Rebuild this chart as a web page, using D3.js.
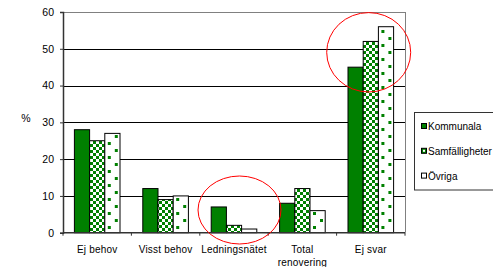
<!DOCTYPE html>
<html><head><meta charset="utf-8">
<script src="https://cdn.jsdelivr.net/npm/d3@7"></script>
<style>body{margin:0;background:#fff}svg{display:block}text{font-family:"Liberation Sans",Arial,sans-serif;fill:#000}</style>
</head><body><svg id="c" width="493" height="267"></svg>
<script>
const categories = ["Ej behov", "Visst behov", "Ledningsnätet", "Total renovering", "Ej svar"];
const seriesNames = ["Kommunala", "Samfälligheter", "Övriga"];
const kommunala = [28, 12, 7, 8, 45];
const samfalligheter = [25, 9, 2, 12, 52];
const ovriga = [27, 10, 1, 6, 56];
const yTicks = [0, 10, 20, 30, 40, 50, 60];

const series = [kommunala, samfalligheter, ovriga];
const svg = d3.select("#c");
const m = {l: 63, t: 12, r: 405, b: 232.7};
const green = "#008000";

const x = d3.scaleBand().domain(categories).range([m.l, m.r]).paddingInner(0).paddingOuter(0);
const y = d3.scaleLinear().domain([0, 60]).range([m.b, m.t]);
const bw = x.bandwidth() / 4.5;

const defs = svg.append("defs");
const chk = defs.append("pattern").attr("id","chk").attr("patternUnits","userSpaceOnUse").attr("width",6).attr("height",6);
chk.append("rect").attr("width",6).attr("height",6).attr("fill","#fff");
chk.append("rect").attr("width",3).attr("height",3).attr("fill",green);
chk.append("rect").attr("x",3).attr("y",3).attr("width",3).attr("height",3).attr("fill",green);
categories.forEach((c, i) => {
  const bx = x(c) + 0.75 * bw + 2 * bw;
  const p = defs.append("pattern").attr("id","dot"+i).attr("patternUnits","userSpaceOnUse")
    .attr("x", bx).attr("y", 0).attr("width",14).attr("height",14);
  p.append("rect").attr("width",14).attr("height",14).attr("fill","#fff");
  p.append("rect").attr("x",3).attr("y",2).attr("width",3).attr("height",3).attr("fill",green);
  p.append("rect").attr("x",10).attr("y",9).attr("width",3).attr("height",3).attr("fill",green);
});

// gridlines
svg.append("g").selectAll("line").data(yTicks.filter(d => d > 0)).join("line")
  .attr("x1", m.l).attr("x2", m.r).attr("y1", d => Math.round(y(d))+0.5).attr("y2", d => Math.round(y(d))+0.5)
  .attr("stroke", d => d === 60 ? "#808080" : "#000").attr("stroke-width", 1);
svg.append("line").attr("x1", m.r+0.5).attr("x2", m.r+0.5).attr("y1", m.t).attr("y2", m.b).attr("stroke", "#808080");

// bars
categories.forEach((c, i) => {
  series.forEach((s, j) => {
    const x0 = x(c) + 0.75 * bw + j * bw;
    const f = j === 0 ? green : j === 1 ? "url(#chk)" : `url(#dot${i})`;
    svg.append("rect").attr("x", x0).attr("y", y(s[i])).attr("width", bw).attr("height", y(0) - y(s[i]))
      .attr("fill", f).attr("stroke", "#000").attr("stroke-width", 1);
  });
});

// y axis
const ya = svg.append("g").attr("transform", `translate(${m.l},0)`)
  .call(d3.axisLeft(y).tickValues(yTicks).tickSize(3).tickPadding(6));
ya.select(".domain").attr("stroke", "#333").attr("stroke-width", 1.5);
ya.selectAll(".tick line").attr("stroke", "#333");
ya.selectAll("text").style("font-size", "10.5px").style("font-family", "Liberation Sans, Arial");

// x axis
const xa = svg.append("g").attr("transform", `translate(0,${m.b})`);
xa.append("line").attr("x1", m.l).attr("x2", m.r).attr("y1", 0).attr("y2", 0).attr("stroke", "#333").attr("stroke-width", 1.5);
xa.selectAll(".tk").data(d3.range(categories.length + 1)).join("line")
  .attr("x1", i => m.l + i * x.step()).attr("x2", i => m.l + i * x.step()).attr("y1", 0).attr("y2", 3).attr("stroke", "#333");
categories.forEach(c => {
  const words = c === "Total renovering" ? ["Total", "renovering"] : [c];
  words.forEach((w, k) => {
    xa.append("text").attr("x", x(c) + x.step()/2).attr("y", 20 + k*13).attr("text-anchor", "middle")
      .style("font-size", "10px").style("letter-spacing", "0.2px").text(w);
  });
});

// y label
svg.append("text").attr("x", 26).attr("y", 122).attr("text-anchor", "middle").style("font-size", "10.5px").text("%");

// legend
const lg = svg.append("g");
lg.append("rect").attr("x", 414.5).attr("y", 112.5).attr("width", 100).attr("height", 77.5).attr("fill", "#fff").attr("stroke", "#333").attr("stroke-width", 1);
seriesNames.forEach((n, j) => {
  const cy = 126.5 + j * 24.8;
  lg.append("rect").attr("x", 421.5).attr("y", cy - 3).attr("width", 5).attr("height", 5).attr("fill", j === 2 ? "#fff" : green).attr("stroke", "#000").attr("stroke-width", 1);
  if (j === 1) lg.append("rect").attr("x", 423).attr("y", cy - 1.5).attr("width", 2).attr("height", 2).attr("fill", "#fff");
  lg.append("text").attr("x", 428).attr("y", cy + 3.8).style("font-size", "10px").text(n);
});

// red ellipses
svg.append("ellipse").attr("cx", 239.5).attr("cy", 210).attr("rx", 41.5).attr("ry", 34).attr("fill", "none").attr("stroke", "#ff0000").attr("stroke-width", 1);
svg.append("ellipse").attr("cx", 368.7).attr("cy", 52.3).attr("rx", 42).attr("ry", 39.7).attr("fill", "none").attr("stroke", "#ff0000").attr("stroke-width", 1);
</script></body></html>
